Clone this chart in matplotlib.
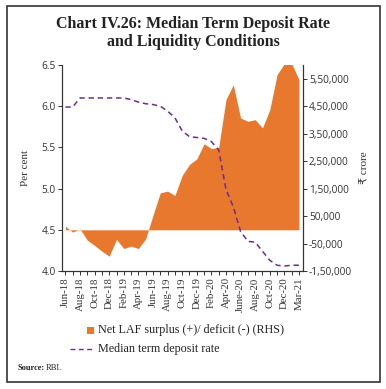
import matplotlib
matplotlib.use("Agg")
import matplotlib.pyplot as plt
import numpy as np
from matplotlib.patches import Rectangle
from matplotlib.lines import Line2D

months = ["Jun-18", "Jul-18", "Aug-18", "Sep-18", "Oct-18", "Nov-18", "Dec-18", "Jan-19",
          "Feb-19", "Mar-19", "Apr-19", "May-19", "Jun-19", "Jul-19", "Aug-19", "Sep-19",
          "Oct-19", "Nov-19", "Dec-19", "Jan-20", "Feb-20", "Mar-20", "Apr-20", "May-20",
          "June-20", "Jul-20", "Aug-20", "Sep-20", "Oct-20", "Nov-20", "Dec-20", "Jan-21",
          "Mar-21"]

# net LAF surplus(+)/deficit(-), Rs crore (RHS)
laf = [13000, -8500, 3000, -37600, -57000, -77700, -96000, -35000, -68000, -59500,
       -68000, -33000, 53000, 134700, 140800, 125000, 198000, 238000, 258000, 313000,
       296000, 300000, 474000, 528000, 407000, 395000, 401000, 371000, 437000, 565000,
       605000, 605000, 547000]

# median term deposit rate, per cent (LHS)
mtdr = [5.99, 5.99, 6.10, 6.10, 6.10, 6.10, 6.10, 6.10, 6.10, 6.08, 6.05, 6.03, 6.02,
        6.00, 5.94, 5.86, 5.70, 5.63, 5.62, 5.61, 5.57, 5.47, 4.99, 4.78, 4.48, 4.36,
        4.35, 4.24, 4.13, 4.07, 4.06, 4.07, 4.07]

left_ticks = [4.0, 4.5, 5.0, 5.5, 6.0, 6.5]
right_ticks = [-150000, -50000, 50000, 150000, 250000, 350000, 450000, 550000]
right_labels = ["-1,50,000", "-50,000", "50,000", "1,50,000", "2,50,000", "3,50,000",
                "4,50,000", "5,50,000"]

serif = ["Liberation Serif", "DejaVu Sans"]
sans = ["Open Sans", "DejaVu Sans"]
orange = "#E8782E"
purple = "#6B2C94"
dash = (0, (3.5, 2.5))

W, H = 386, 389
fig = plt.figure(figsize=(W / 100, H / 100), dpi=100)
fig.patches.append(Rectangle((7 / W, 1 - 382 / H), 373 / W, 376 / H,
                             transform=fig.transFigure, fill=False, lw=1.2, ec="#333333"))

fig.text(0.5, 1 - 24 / H, "Chart IV.26: Median Term Deposit Rate", ha="center", va="center",
         fontsize=11.5, fontweight="bold", family=serif, color="#222222")
fig.text(0.5, 1 - 42 / H, "and Liquidity Conditions", ha="center", va="center",
         fontsize=11.5, fontweight="bold", family=serif, color="#222222")

ax = fig.add_axes([0.160, 0.3033, 0.624, 0.5296])
ax2 = ax.twinx()
x = np.arange(len(months))

ax2.fill_between(x, 0, laf, color=orange, lw=0)
ax2.set_ylim(-150000, 600000)
ax2.set_yticks(right_ticks)
ax2.set_yticklabels(right_labels, family=sans, fontsize=7.3, color="#333333")
ax2.set_ylabel("₹ crore", family=serif, fontsize=8, color="#333333", labelpad=6)

ax.plot(x, mtdr, color=purple, lw=1.1, ls=dash, zorder=5)
ax.set_zorder(ax2.get_zorder() + 1)
ax.patch.set_visible(False)
ax.set_ylim(4.0, 6.5)
ax.set_yticks(left_ticks)
ax.set_yticklabels([f"{v:.1f}" for v in left_ticks], family=sans, fontsize=7.3, color="#333333")
ax.set_ylabel("Per cent", family=serif, fontsize=8, color="#333333", labelpad=8)
ax.set_xlim(-0.5, len(months) - 0.5)
ax.set_xticks(x)
ax.set_xticklabels([m if i % 2 == 0 else "" for i, m in enumerate(months)], rotation=90,
                   family=serif, fontsize=7.8, color="#333333")

for a in (ax, ax2):
    a.spines["top"].set_visible(False)
    for s in a.spines.values():
        s.set_linewidth(0.8)
        s.set_color("#333333")
    a.tick_params(length=3, width=0.7, color="#333333", pad=1.5)

# legend drawn by hand: small square and dashed line
fig.patches.append(Rectangle((87 / W, 1 - 334 / H), 7 / W, 7 / H, transform=fig.transFigure,
                             color=orange, lw=0))
fig.text(98 / W, 1 - 330 / H, "Net LAF surplus (+)/ deficit (-) (RHS)", va="center",
         fontsize=8.7, family=serif, color="#222222")
fig.lines.append(Line2D([70 / W, 95 / W], [1 - 349 / H, 1 - 349 / H], transform=fig.transFigure,
                        color=purple, lw=1.0, ls=dash))
fig.text(98 / W, 1 - 349 / H, "Median term deposit rate", va="center",
         fontsize=8.7, family=serif, color="#222222")

fig.text(18 / W, 1 - 368 / H, "Source:", fontsize=6, fontweight="bold", family=serif,
         va="center", color="#222222")
fig.text(46 / W, 1 - 368 / H, "RBI.", fontsize=6, family=serif, va="center", color="#222222")

fig.savefig("out.png", dpi=100)
